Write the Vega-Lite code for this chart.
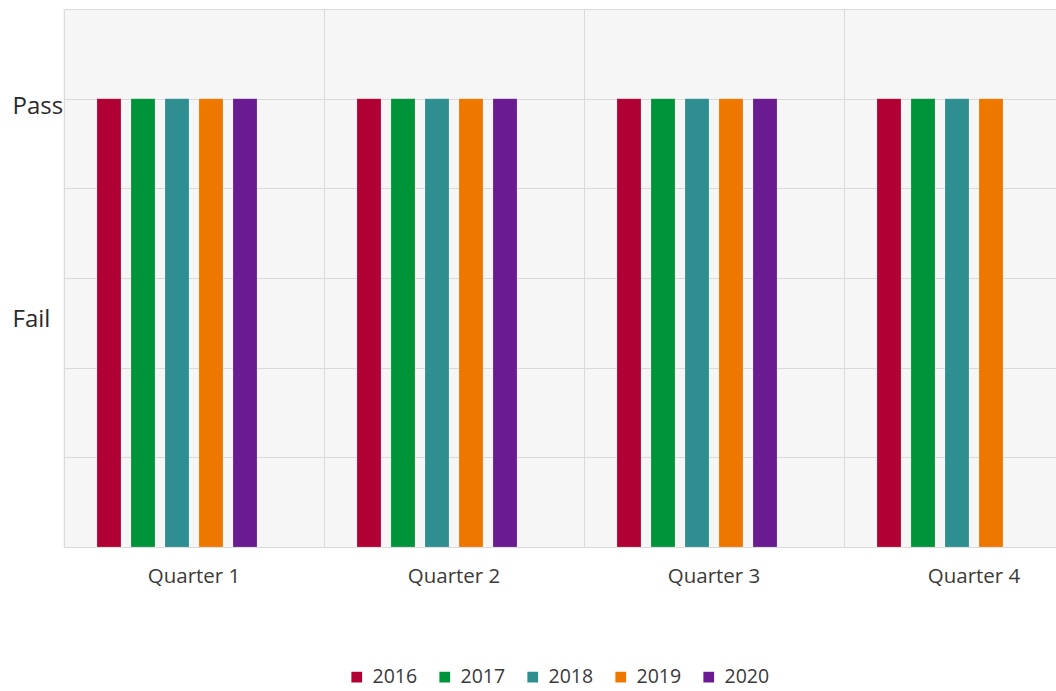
{
  "$schema": "https://vega.github.io/schema/vega-lite/v6.json",
  "autosize": {"type": "none"},
  "padding": {"left": 63, "top": 9, "right": 0, "bottom": 144},
  "width": 993,
  "height": 538,
  "background": "white",
  "config": {
    "view": {"stroke": null, "fill": "#F6F6F6"},
    "font": "Open Sans"
  },
  "data": {
    "values": [
      {"quarter": "Quarter 1", "year": "2016", "result": 1},
      {"quarter": "Quarter 1", "year": "2017", "result": 1},
      {"quarter": "Quarter 1", "year": "2018", "result": 1},
      {"quarter": "Quarter 1", "year": "2019", "result": 1},
      {"quarter": "Quarter 1", "year": "2020", "result": 1},
      {"quarter": "Quarter 2", "year": "2016", "result": 1},
      {"quarter": "Quarter 2", "year": "2017", "result": 1},
      {"quarter": "Quarter 2", "year": "2018", "result": 1},
      {"quarter": "Quarter 2", "year": "2019", "result": 1},
      {"quarter": "Quarter 2", "year": "2020", "result": 1},
      {"quarter": "Quarter 3", "year": "2016", "result": 1},
      {"quarter": "Quarter 3", "year": "2017", "result": 1},
      {"quarter": "Quarter 3", "year": "2018", "result": 1},
      {"quarter": "Quarter 3", "year": "2019", "result": 1},
      {"quarter": "Quarter 3", "year": "2020", "result": 1},
      {"quarter": "Quarter 4", "year": "2016", "result": 1},
      {"quarter": "Quarter 4", "year": "2017", "result": 1},
      {"quarter": "Quarter 4", "year": "2018", "result": 1},
      {"quarter": "Quarter 4", "year": "2019", "result": 1}
    ]
  },
  "mark": {"type": "bar", "stroke": "white", "strokeOpacity": 0.35, "strokeWidth": 0.5},
  "encoding": {
    "x": {
      "field": "quarter",
      "type": "nominal",
      "sort": ["Quarter 1", "Quarter 2", "Quarter 3", "Quarter 4"],
      "scale": {"range": [1, 1041], "paddingInner": 0, "paddingOuter": 0},
      "axis": {
        "title": null,
        "labelAngle": 0,
        "labelFont": "Open Sans",
        "labelFontSize": 20.5,
        "labelColor": "#3a3a3a",
        "labelPadding": 19,
        "tickSize": 0,
        "ticks": false,
        "grid": true,
        "gridColor": "#DADADA",
        "gridWidth": 1,
        "bandPosition": 0,
        "domain": true,
        "domainColor": "#DADADA",
        "domainWidth": 1
      }
    },
    "xOffset": {
      "field": "year",
      "type": "nominal",
      "scale": {"domain": ["2016", "2017", "2018", "2019", "2020", "2021"], "paddingInner": 0.294, "paddingOuter": 0.97}
    },
    "y": {
      "field": "result",
      "type": "quantitative",
      "scale": {"domain": [0, 1.2], "nice": false, "zero": true},
      "axis": {
        "title": null,
        "values": [0, 0.2, 0.4, 0.5, 0.6, 0.8, 1, 1.2],
        "labelExpr": "datum.value == 1 ? 'Pass' : (datum.value == 0.5 ? 'Fail' : '')",
        "labelFont": "Open Sans",
        "labelFontSize": 24,
        "labelColor": "#2a2a2a",
        "labelAlign": "left",
        "labelBaseline": "middle",
        "labelPadding": 51,
        "labelOffset": {"condition": {"test": "datum.value == 1", "value": 8}, "value": -3},
        "labelOverlap": false,
        "labelBound": false,
        "labelFlush": false,
        "tickSize": 0,
        "ticks": false,
        "domain": false,
        "grid": true,
        "gridColor": "#DADADA",
        "gridWidth": 1,
        "gridOpacity": {"condition": {"test": "datum.value == 0.5", "value": 0}, "value": 1}
      }
    },
    "color": {
      "field": "year",
      "type": "nominal",
      "scale": {
        "domain": ["2016", "2017", "2018", "2019", "2020"],
        "range": ["#B10034", "#00943A", "#2E8E90", "#EE7700", "#6A1B91"]
      },
      "legend": {
        "title": null,
        "orient": "none",
        "direction": "horizontal",
        "legendX": 284,
        "legendY": 658,
        "symbolType": "square",
        "symbolSize": 115,
        "symbolStrokeWidth": 0,
        "labelFont": "Open Sans",
        "labelFontSize": 19.5,
        "labelColor": "#3a3a3a",
        "labelOffset": 6,
        "columnPadding": 17
      }
    }
  }
}
